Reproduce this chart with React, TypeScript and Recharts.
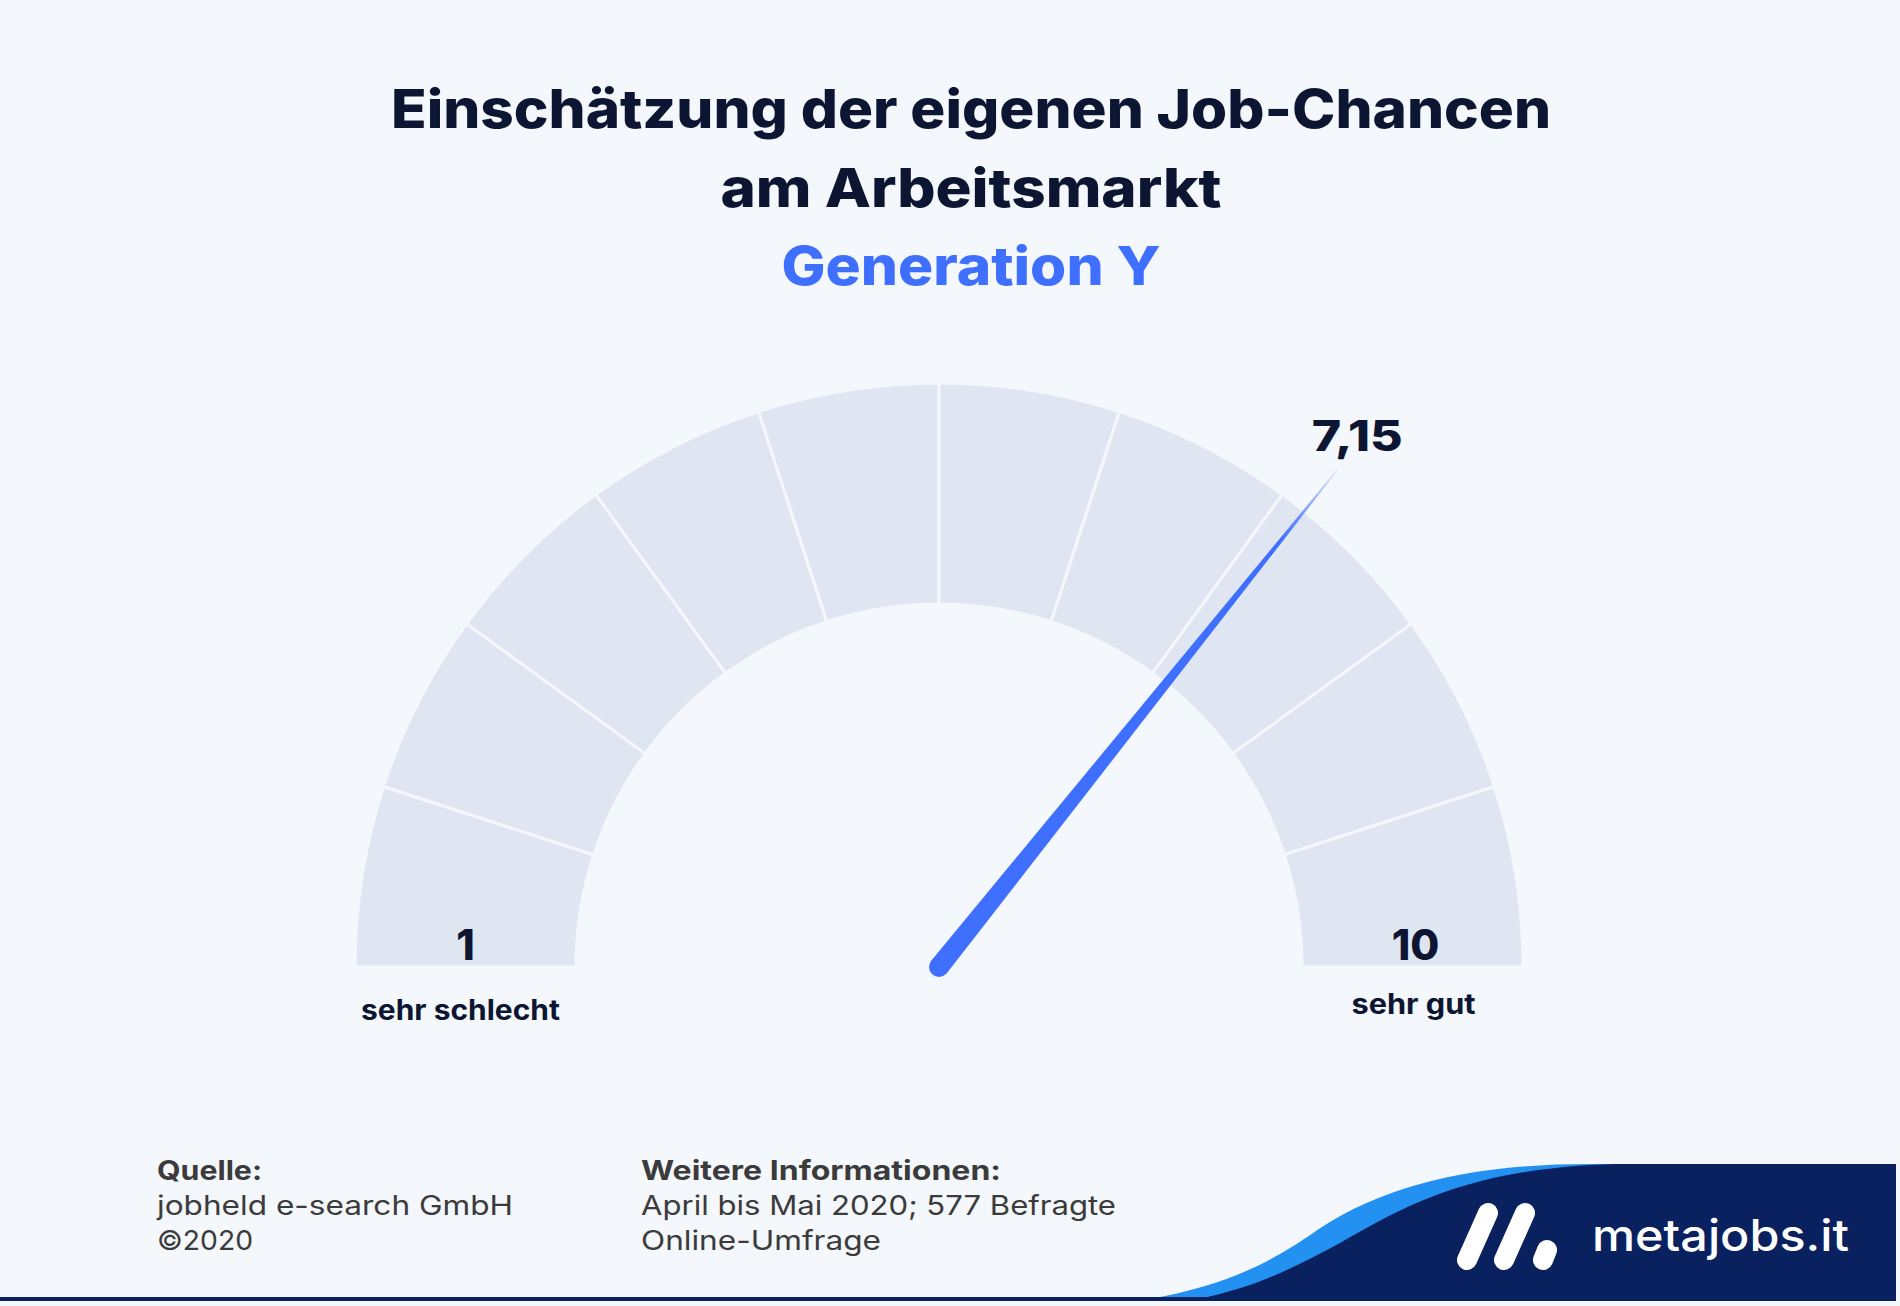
import React from 'react';
import { PieChart, Pie, Cell } from 'recharts';

// ---------- data ----------
const TITLE_LINES = ['Einschätzung der eigenen Job-Chancen', 'am Arbeitsmarkt'];
const SUBTITLE = 'Generation Y';
const SEGMENT_COUNT = 10;
const SEGMENTS = Array.from({ length: SEGMENT_COUNT }, (_, i) => ({ name: `s${i + 1}`, value: 1 }));
const GAUGE_MIN = 0;
const GAUGE_MAX = 10;
const SCORE = 7.15;
const SCORE_LABEL = '7,15';
const END_TICKS = ['1', '10'];
const END_LABELS = ['sehr schlecht', 'sehr gut'];
const SOURCE_LINES = ['Quelle:', 'jobheld e-search GmbH', '©2020'];
const INFO_LINES = ['Weitere Informationen:', 'April bis Mai 2020; 577 Befragte', 'Online-Umfrage'];
const BRAND = 'metajobs.it';

const NEEDLE_DATA = [
  { name: 'score', value: SCORE - GAUGE_MIN },
  { name: 'rest', value: GAUGE_MAX - SCORE },
];

// ---------- style ----------
const BG = '#F4F7FC';
const SEG = '#E0E6F1';
const DARK = '#0C1632';
const BLUE = '#3F6FFF';
const NAVY = '#0A2160';
const WAVE = '#2391F2';
const GREY = '#3B3B3B';
const FONT = 'Inter, "Noto Sans", sans-serif';

const CX = 939;
const CY = 967;
const R_IN = 363;
const R_OUT = 584;
const NEEDLE_LEN = 637;

const RAD = Math.PI / 180;

function renderSegmentLabel(props: any) {
  const { index, cx, cy, innerRadius, outerRadius, startAngle, endAngle } = props;
  if (index !== 0 && index !== SEGMENT_COUNT - 1) return null;
  const ang = index === 0 ? startAngle : endAngle;
  const midR = (innerRadius + outerRadius) / 2;
  const x = cx + midR * Math.cos(ang * RAD);
  const which = index === 0 ? 0 : 1;
  return (
    <g key={`end-${index}`}>
      <text x={which === 0 ? x : x + 3} y={cy - 7} textAnchor="middle" fontFamily={FONT} fontWeight={800} fontSize={42} fill={DARK}>
        {END_TICKS[which]}
      </text>
      <text
        x={which === 0 ? x - 5 : x + 1}
        y={which === 0 ? cy + 53 : cy + 47}
        textAnchor="middle"
        fontFamily={FONT}
        fontWeight={700}
        fontSize={28}
        fill={DARK}
        textLength={which === 0 ? 199 : 124}
        lengthAdjust="spacingAndGlyphs"
      >
        {END_LABELS[which]}
      </text>
    </g>
  );
}

function renderNeedle(props: any) {
  const { index, cx, cy, endAngle, percent } = props;
  if (index !== 0) return null;
  const ang = typeof endAngle === 'number' ? endAngle : 180 - 180 * percent;
  const c = Math.cos(ang * RAD);
  const s = Math.sin(ang * RAD);
  const tx = cx + NEEDLE_LEN * c;
  const ty = cy - NEEDLE_LEN * s;
  const nx = s;
  const ny = c;
  const w0 = 10;
  const w1 = 0.6;
  const d = `M${cx + nx * w0},${cy + ny * w0} L${tx + nx * w1},${ty + ny * w1} L${tx - nx * w1},${ty - ny * w1} L${cx - nx * w0},${cy - ny * w0} Z`;
  return (
    <g key="needle">
      <defs>
        <linearGradient id="needleGrad" gradientUnits="userSpaceOnUse" x1={cx} y1={cy} x2={tx} y2={ty}>
          <stop offset="0" stopColor={BLUE} stopOpacity={1} />
          <stop offset="0.86" stopColor={BLUE} stopOpacity={1} />
          <stop offset="1" stopColor={BLUE} stopOpacity={0.12} />
        </linearGradient>
      </defs>
      <path d={d} fill="url(#needleGrad)" />
      <circle cx={cx} cy={cy} r={w0} fill={BLUE} />
      <text x={tx + 20} y={ty - 19} textAnchor="middle" fontFamily={FONT} fontWeight={800} fontSize={42} fill={DARK} textLength={91} lengthAdjust="spacingAndGlyphs">
        {SCORE_LABEL}
      </text>
    </g>
  );
}

export default function App() {
  return (
    <div
      style={{
        position: 'absolute',
        left: 0,
        top: 0,
        width: 1900,
        height: 1306,
        background: BG,
        overflow: 'hidden',
      }}
    >
      <div style={{ position: 'absolute', left: 0, top: 0 }}>
        <PieChart width={1900} height={1306} margin={{ top: 0, right: 0, bottom: 0, left: 0 }}>
          <Pie
            data={SEGMENTS}
            dataKey="value"
            cx={CX}
            cy={CY}
            startAngle={180}
            endAngle={0}
            innerRadius={R_IN}
            outerRadius={R_OUT}
            stroke={BG}
            strokeWidth={3}
            label={renderSegmentLabel}
            labelLine={false}
            isAnimationActive={false}
          >
            {SEGMENTS.map((s) => (
              <Cell key={s.name} fill={SEG} />
            ))}
          </Pie>
          <Pie
            data={NEEDLE_DATA}
            dataKey="value"
            cx={CX}
            cy={CY}
            startAngle={180}
            endAngle={0}
            innerRadius={0}
            outerRadius={R_OUT}
            fill="transparent"
            stroke="none"
            label={renderNeedle}
            labelLine={false}
            isAnimationActive={false}
          >
            {NEEDLE_DATA.map((d) => (
              <Cell key={d.name} fill="transparent" stroke="none" />
            ))}
          </Pie>
        </PieChart>
      </div>
      <svg
        width={1900}
        height={1306}
        style={{ position: 'absolute', left: 0, top: 0, pointerEvents: 'none' }}
      >
        {/* titles */}
        <text x={971} y={128} textAnchor="middle" fontFamily={FONT} fontWeight={800} fontSize={54} fill={DARK} textLength={1160} lengthAdjust="spacingAndGlyphs">
          {TITLE_LINES[0]}
        </text>
        <text x={971} y={207} textAnchor="middle" fontFamily={FONT} fontWeight={800} fontSize={54} fill={DARK} textLength={501} lengthAdjust="spacingAndGlyphs">
          {TITLE_LINES[1]}
        </text>
        <text x={971} y={285} textAnchor="middle" fontFamily={FONT} fontWeight={800} fontSize={54} fill={BLUE} textLength={379} lengthAdjust="spacingAndGlyphs">
          {SUBTITLE}
        </text>

        {/* footer */}
        {SOURCE_LINES.map((t, i) => (
          <text key={t} x={157} y={1180 + i * 35} fontFamily={FONT} fontWeight={i === 0 ? 700 : 400} fontSize={27} fill={GREY}
            textLength={[105, 356, 96][i]} lengthAdjust="spacingAndGlyphs">
            {t}
          </text>
        ))}
        {INFO_LINES.map((t, i) => (
          <text key={t} x={641} y={1180 + i * 35} fontFamily={FONT} fontWeight={i === 0 ? 700 : 400} fontSize={27} fill={GREY}
            textLength={[360, 475, 240][i]} lengthAdjust="spacingAndGlyphs">
            {t}
          </text>
        ))}

        {/* brand block */}
        <path d="M1148,1299 C1230,1286 1280,1256 1313,1233 C1375,1190 1460,1164 1590,1164 L1896,1164 L1896,1299 Z" fill={WAVE} />
        <path d="M1198,1299 C1262,1286 1302,1263 1340,1243 C1405,1206 1470,1168 1615,1164 L1896,1164 L1896,1299 Z" fill={NAVY} />
        <rect x={0} y={1297} width={1896} height={4} fill={NAVY} />
        <line x1={1488} y1={1213} x2={1467} y2={1260} stroke="#fff" strokeWidth={20} strokeLinecap="round" />
        <line x1={1525} y1={1213} x2={1504} y2={1260} stroke="#fff" strokeWidth={20} strokeLinecap="round" />
        <line x1={1547} y1={1250} x2={1543} y2={1260} stroke="#fff" strokeWidth={20} strokeLinecap="round" />
        <text x={1592} y={1251} fontFamily={FONT} fontWeight={500} fontSize={44} fill="#fff" textLength={257} lengthAdjust="spacingAndGlyphs">
          {BRAND}
        </text>
      </svg>
    </div>
  );
}
